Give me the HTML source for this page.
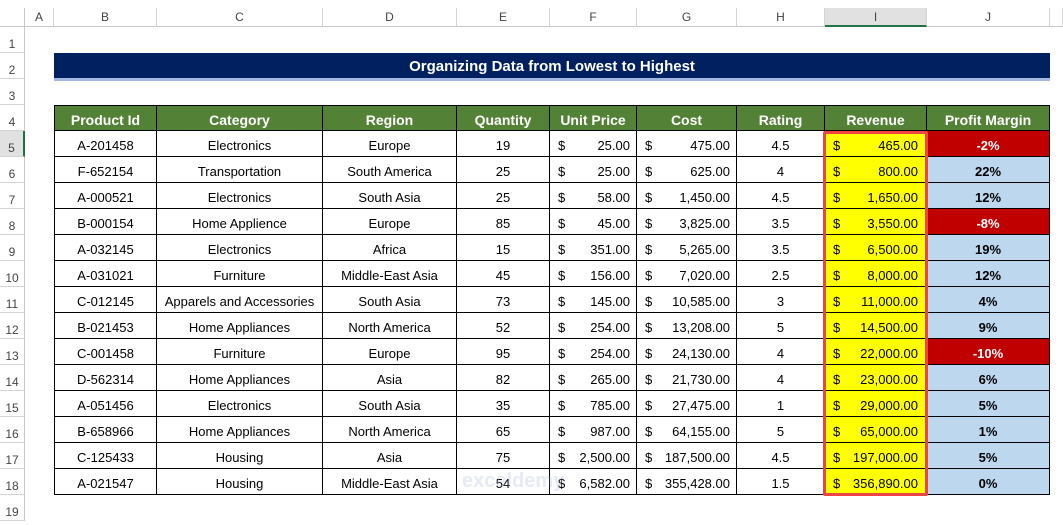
<!DOCTYPE html>
<html><head><meta charset="utf-8"><style>
body{margin:0;width:1063px;height:516px;overflow:hidden;background:#fff;font-family:"Liberation Sans",sans-serif;position:relative}
div{box-sizing:border-box}
.a{position:absolute}
.colh{position:absolute;top:8px;height:19px;background:#fff;border-right:1px solid #d4d4d4;border-bottom:1px solid #c8c8c8;font-size:12px;color:#444;text-align:center;line-height:19px}
.rowh{position:absolute;left:0;width:25px;height:26px;border-bottom:1px solid #d4d4d4;border-right:1px solid #c8c8c8;font-size:12px;color:#444;text-align:center;line-height:26px;padding-top:4px}
.c{position:absolute;height:26px;border-right:1px solid #000;border-bottom:1px solid #000;font-size:13px;line-height:26px;padding-top:2px;text-align:center;color:#000;white-space:nowrap;overflow:hidden}
.h{background:#538135;color:#fff;font-weight:bold;font-size:14px;padding-top:1px}
.d{text-align:right;padding-right:6px}
.d span{position:absolute;left:8px}
</style></head><body>
<div class="a" style="left:0;top:0;width:1063px;height:8px;background:#fff"></div>
<div class="a" style="left:0;top:8px;width:25px;height:19px;border-right:1px solid #c8c8c8;border-bottom:1px solid #c8c8c8"></div>
<div id="g"></div>
<div class="a" style="left:54px;top:53px;width:996px;height:25px;background:#002060;color:#fff;font-weight:bold;font-size:15px;text-align:center;line-height:27px">Organizing Data from Lowest to Highest</div>
<div class="a" style="left:54px;top:78px;width:996px;height:3px;background:#a3b7e0"></div>
<script>
const colLetters=['A','B','C','D','E','F','G','H','I','J'];
const colX=[25,54,157,323,457,550,637,737,825,927,1050];
const headers=['Product Id','Category','Region','Quantity','Unit Price','Cost','Rating','Revenue','Profit Margin'];
const ids=['A-201458','F-652154','A-000521','B-000154','A-032145','A-031021','C-012145','B-021453','C-001458','D-562314','A-051456','B-658966','C-125433','A-021547'];
const cats=['Electronics','Transportation','Electronics','Home Applience','Electronics','Furniture','Apparels and Accessories','Home Appliances','Furniture','Home Appliances','Electronics','Home Appliances','Housing','Housing'];
const regions=['Europe','South America','South Asia','Europe','Africa','Middle-East Asia','South Asia','North America','Europe','Asia','South Asia','North America','Asia','Middle-East Asia'];
const qty=['19','25','25','85','15','45','73','52','95','82','35','65','75','54'];
const price=['25.00','25.00','58.00','45.00','351.00','156.00','145.00','254.00','254.00','265.00','785.00','987.00','2,500.00','6,582.00'];
const cost=['475.00','625.00','1,450.00','3,825.00','5,265.00','7,020.00','10,585.00','13,208.00','24,130.00','21,730.00','27,475.00','64,155.00','187,500.00','355,428.00'];
const rating=['4.5','4','4.5','3.5','3.5','2.5','3','5','4','4','1','5','4.5','1.5'];
const revenue=['465.00','800.00','1,650.00','3,550.00','6,500.00','8,000.00','11,000.00','14,500.00','22,000.00','23,000.00','29,000.00','65,000.00','197,000.00','356,890.00'];
const margin=['-2%','22%','12%','-8%','19%','12%','4%','9%','-10%','6%','5%','1%','5%','0%'];
const g=document.getElementById('g');
function mk(cls,x,y,w,h,html,name,inter){const e=document.createElement('div');e.className=cls;e.style.left=x+'px';e.style.top=y+'px';e.style.width=w+'px';if(h)e.style.height=h+'px';e.innerHTML=html;


g.appendChild(e);return e;}
colLetters.forEach((l,i)=>{const e=mk('colh',colX[i],8,colX[i+1]-colX[i],0,l,'column-header-'+l.toLowerCase(),true);if(l==='I'){e.style.background='#e1e1e1';e.style.borderBottom='2px solid #217346';}});
mk('colh',1050,8,13,0,'','column-header-filler',false);
for(let r=1;r<=19;r++){const e=mk('rowh',0,27+(r-1)*26,25,0,r,'row-header-'+r,true);if(r===5){e.style.borderRight='2px solid #217346';e.style.background='#e1e1e1';}}
const rowTop=r=>27+(r-1)*26;
headers.forEach((h,i)=>{const e=mk('c h',colX[i+1],rowTop(4),colX[i+2]-colX[i+1],26,h,'header-'+h.toLowerCase().replace(/ /g,'-'),false);e.style.borderTop='1px solid #000';if(i===0)e.style.borderLeft='1px solid #000';});
ids.forEach((id,k)=>{const y=rowTop(5+k);
const e0=mk('c',colX[1],y,colX[2]-colX[1],26,id,'product-id-cell',true);e0.style.borderLeft='1px solid #000';
mk('c',colX[2],y,colX[3]-colX[2],26,cats[k],'category-cell',true);
mk('c',colX[3],y,colX[4]-colX[3],26,regions[k],'region-cell',true);
mk('c',colX[4],y,colX[5]-colX[4],26,qty[k],'quantity-cell',true);
mk('c d',colX[5],y,colX[6]-colX[5],26,'<span>$</span>'+price[k],'unit-price-cell',true);
mk('c d',colX[6],y,colX[7]-colX[6],26,'<span>$</span>'+cost[k],'cost-cell',true);
mk('c',colX[7],y,colX[8]-colX[7],26,rating[k],'rating-cell',true);
const rv=mk('c d',colX[8],y,colX[9]-colX[8],26,'<span>$</span>'+revenue[k],'revenue-cell',true);rv.style.background='#ffff00';rv.style.paddingRight='8px';
const neg=margin[k].startsWith('-');
const m=mk('c',colX[9],y,colX[10]-colX[9],26,margin[k],'profit-margin-cell',true);m.style.fontWeight='bold';m.style.background=neg?'#c00000':'#bdd7ee';m.style.color=neg?'#fff':'#000';
});
const hl=mk('a',823,131,105,365,'','revenue-highlight-border',false);hl.style.border='3px solid #ef4444';hl.style.borderRadius='2px';
const wm=mk('a',462,470,140,24,'exceldemy','watermark',false);wm.style.color='rgba(150,170,210,0.25)';wm.style.fontSize='20px';wm.style.fontWeight='bold';
</script>
</body></html>
